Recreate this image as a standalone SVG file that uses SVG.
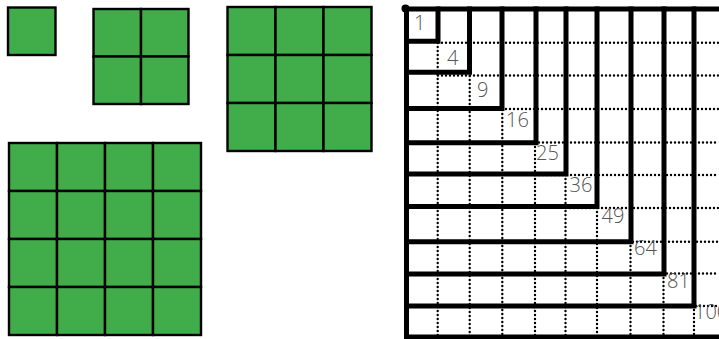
<svg xmlns="http://www.w3.org/2000/svg" width="719" height="339" viewBox="0 0 719 339">
<style>
.c{fill:#41ad4a;stroke:#000;stroke-width:2.4}
.dot{fill:none;stroke:#000;stroke-width:2.4;stroke-linecap:round;stroke-dasharray:0 4}
.thick{fill:none;stroke:#000;stroke-width:5;stroke-linecap:square}
.lbl{font-family:"Open Sans","Liberation Sans",sans-serif;font-weight:300;font-size:20px;fill:#555}
</style>
<defs>
<rect id="c47" class="c" width="47.5" height="47.5"/>
<rect id="c48" class="c" width="48" height="48"/>
</defs>
<rect width="719" height="339" fill="#fff"/>
<g id="square1">
<use href="#c47" x="8" y="7.5"/>
</g>
<g id="square4">
<use href="#c47" x="93.5" y="9"/><use href="#c47" x="141" y="9"/>
<use href="#c47" x="93.5" y="56.5"/><use href="#c47" x="141" y="56.5"/>
</g>
<g id="square9">
<use href="#c48" x="227.5" y="7"/><use href="#c48" x="275.5" y="7"/><use href="#c48" x="323.5" y="7"/>
<use href="#c48" x="227.5" y="55"/><use href="#c48" x="275.5" y="55"/><use href="#c48" x="323.5" y="55"/>
<use href="#c48" x="227.5" y="103"/><use href="#c48" x="275.5" y="103"/><use href="#c48" x="323.5" y="103"/>
</g>
<g id="square16">
<use href="#c48" x="9" y="143"/><use href="#c48" x="57" y="143"/><use href="#c48" x="105" y="143"/><use href="#c48" x="153" y="143"/>
<use href="#c48" x="9" y="191"/><use href="#c48" x="57" y="191"/><use href="#c48" x="105" y="191"/><use href="#c48" x="153" y="191"/>
<use href="#c48" x="9" y="239"/><use href="#c48" x="57" y="239"/><use href="#c48" x="105" y="239"/><use href="#c48" x="153" y="239"/>
<use href="#c48" x="9" y="287"/><use href="#c48" x="57" y="287"/><use href="#c48" x="105" y="287"/><use href="#c48" x="153" y="287"/>
</g>
<g id="grid">
<g id="dotted">
<path class="dot" d="M438 42.7H719M438 75.5H719M470 109H719M503 142.5H719M535 175H719M566 208H719M597 241.7H719M631 273.5H719M664 306H719"/>
<path class="dot" d="M437.7 43V337M469.7 76V337M502.3 110V337M535 143V337M565.5 175V337M597 208V337M630.5 242V337M663.5 274V337M694 306V337"/>
</g>
<g id="outer">
<path class="thick" d="M406.5 9H721M406.5 9V337H721"/>
<circle cx="405.5" cy="8.5" r="4"/>
</g>
<g id="L1"><path class="thick" d="M438 9V41.3H406.5"/><text class="lbl" x="414" y="30">1</text></g>
<g id="L4"><path class="thick" d="M469.5 9V72.3H406.5"/><text class="lbl" x="447" y="65">4</text></g>
<g id="L9"><path class="thick" d="M502 9V108.5H406.5"/><text class="lbl" x="477" y="97">9</text></g>
<g id="L16"><path class="thick" d="M536 9V142.7H406.5"/><text class="lbl" x="506" y="127">16</text></g>
<g id="L25"><path class="thick" d="M566 9V174H406.5"/><text class="lbl" x="536" y="160">25</text></g>
<g id="L36"><path class="thick" d="M597 9V206.5H406.5"/><text class="lbl" x="569.5" y="192">36</text></g>
<g id="L49"><path class="thick" d="M631 9V241.7H406.5"/><text class="lbl" x="601.5" y="223">49</text></g>
<g id="L64"><path class="thick" d="M664 9V274H406.5"/><text class="lbl" x="634" y="255">64</text></g>
<g id="L81"><path class="thick" d="M694 9V306H406.5"/><text class="lbl" x="667" y="288">81</text></g>
<g id="L100"><text class="lbl" x="694" y="319">100</text></g>
</g>
</svg>
